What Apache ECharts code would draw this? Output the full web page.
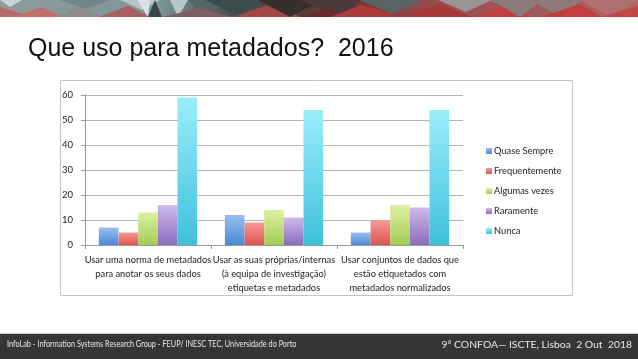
<!DOCTYPE html>
<html><head><meta charset="utf-8">
<script src="https://cdn.jsdelivr.net/npm/echarts@6/dist/echarts.min.js"></script>
<style>html,body{margin:0;padding:0;background:#fff}#c{width:638px;height:359px}</style>
</head><body><div id="c"></div>
<script>
var categories = [
  "Usar uma norma de metadados\npara anotar os seus dados",
  "Usar as suas próprias/internas\n(à equipa de investigação)\netiquetas e metadados",
  "Usar conjuntos de dados que\nestão etiquetados com\nmetadados normalizados"
];
var seriesNames = ["Quase Sempre", "Frequentemente", "Algumas vezes", "Raramente", "Nunca"];
var quaseSempre = [7, 12, 5];
var frequentemente = [5, 9, 10];
var algumasVezes = [13, 14, 16];
var raramente = [16, 11, 15];
var nunca = [59, 54, 54];
var yTicks = [0, 10, 20, 30, 40, 50, 60];

var values = [quaseSempre, frequentemente, algumasVezes, raramente, nunca];
var colorPairs = [
  ["#98c0f0", "#4a88d6"],
  ["#f59a96", "#dc5550"],
  ["#dcf0a6", "#a4cc52"],
  ["#cdbbe8", "#8d6bc0"],
  ["#9aeefc", "#40c0dc"]
];
function grad(p){return new echarts.graphic.LinearGradient(0,0,0,1,[{offset:0,color:p[0]},{offset:1,color:p[1]}]);}

// decorative banner triangles
var tri = [
  [[0,17],[0,7],[32,17],'#b86a68'],
  [[0,0],[22,0],[10,7],'#c9d3d3'],
  [[12,17],[42,7],[62,17],'#c26e6b'],
  [[58,17],[82,5],[102,17],'#8c8d8c'],
  [[98,17],[128,6],[150,17],'#a76060'],
  [[60,0],[110,0],[85,9],'#6f8788'],
  [[120,0],[160,0],[142,10],'#b6c6c8'],
  [[137,0],[148,17],[150,0],'#d8e0e0'],
  [[148,17],[155,0],[162,17],'#3b4648'],
  [[170,0],[178,17],[188,0],'#b8c6c8'],
  [[188,0],[230,0],[202,17],'#566466'],
  [[162,17],[200,8],[232,17],'#7e5e5e'],
  [[205,0],[262,0],[240,17],'#3d4a4c'],
  [[232,17],[268,5],[302,17],'#a04848'],
  [[258,0],[322,0],[290,17],'#3a2d2e'],
  [[300,0],[362,0],[340,17],'#4a3a3b'],
  [[300,17],[330,8],[345,17],'#6a2a2c'],
  [[330,17],[362,5],[402,17],'#b03a3a'],
  [[360,0],[422,0],[392,14],'#5a6365'],
  [[400,17],[440,4],[472,17],'#a63838'],
  [[438,0],[492,0],[466,12],'#9c9494'],
  [[470,17],[502,6],[532,17],'#c04040'],
  [[490,0],[542,0],[520,17],'#8a7b7c'],
  [[530,0],[582,0],[560,17],'#8e7a7b'],
  [[540,17],[580,4],[602,17],'#c33f3f'],
  [[580,0],[638,0],[610,17],'#b07070'],
  [[600,17],[638,6],[638,17],'#c24848']
];
var bannerGraphics = tri.map(function(t){
  return {type:'polygon', shape:{points:[t[0],t[1],t[2]]}, style:{fill:t[3]}, z:1};
});

var chart = echarts.init(document.getElementById('c'), null, {renderer:'canvas'});
var series = seriesNames.map(function(n,i){
  return {name:n, type:'bar', data:values[i], barGap:'0%', barCategoryGap:'22%',
    itemStyle:{color:grad(colorPairs[i])}};
});
chart.setOption({
  animation:false,
  backgroundColor:'#fff',
  graphic:[
    {type:'rect', shape:{x:0,y:0,width:638,height:17}, style:{fill:new echarts.graphic.LinearGradient(0,0,1,0,[
      {offset:0,color:'#8f9b9c'},{offset:0.25,color:'#7d9598'},{offset:0.35,color:'#4d5658'},
      {offset:0.45,color:'#4a3d3e'},{offset:0.55,color:'#7b3335'},{offset:0.7,color:'#9a5052'},
      {offset:0.85,color:'#a05a5a'},{offset:1,color:'#b56565'}])}, z:0},
    {type:'group', children:bannerGraphics},
    {type:'text', left:28, top:37, style:{text:'Que uso para metadados?  2016', fontFamily:'Liberation Sans', fontSize:25, fill:'#111'}},
    {type:'rect', shape:{x:60.5,y:80.5,width:512,height:215}, style:{fill:'none', stroke:'#c4c4c4', lineWidth:1}, z:-1},
    {type:'rect', shape:{x:0,y:333,width:638,height:1}, style:{fill:'#cfcfcf'}},
    {type:'rect', shape:{x:0,y:334,width:638,height:25}, style:{fill:'#353535'}},
    {type:'text', x:7, y:340, scaleX:0.86, style:{text:'InfoLab - Information Systems Research Group - FEUP/ INESC TEC, Universidade do Porto', fontFamily:'Lato', fontSize:8.5, fill:'#e8e8e8'}},
    {type:'text', right:6, top:340, style:{text:'9ª CONFOA— ISCTE, Lisboa  2 Out  2018', fontFamily:'Lato', fontSize:10.4, fill:'#e8e8e8'}}
  ],
  grid:{left:85, right:175, top:95, bottom:114},
  legend:{orient:'vertical', left:481, top:140, itemWidth:6, itemHeight:6, itemGap:8, icon:'rect',
    textStyle:{fontFamily:'Lato', fontSize:9.3, color:'#222', lineHeight:12, padding:[0,0,0,-3]}, data:seriesNames},
  xAxis:{type:'category', data:categories,
    axisLine:{lineStyle:{color:'#999'}}, axisTick:{show:true, length:4, lineStyle:{color:'#999'}},
    axisLabel:{fontFamily:'Lato', fontSize:9.3, color:'#222', lineHeight:14, margin:8, interval:0}},
  yAxis:{type:'value', min:0, max:60, interval:10,
    axisLine:{show:true, lineStyle:{color:'#999'}}, axisTick:{show:true, length:4, lineStyle:{color:'#999'}},
    splitLine:{lineStyle:{color:'#b5b5b5'}},
    axisLabel:{fontFamily:'Lato', fontSize:9.5, color:'#222', margin:12,
      formatter:function(v){return yTicks.indexOf(v)>=0?String(v):'';}}},
  series:series
});
</script></body></html>
